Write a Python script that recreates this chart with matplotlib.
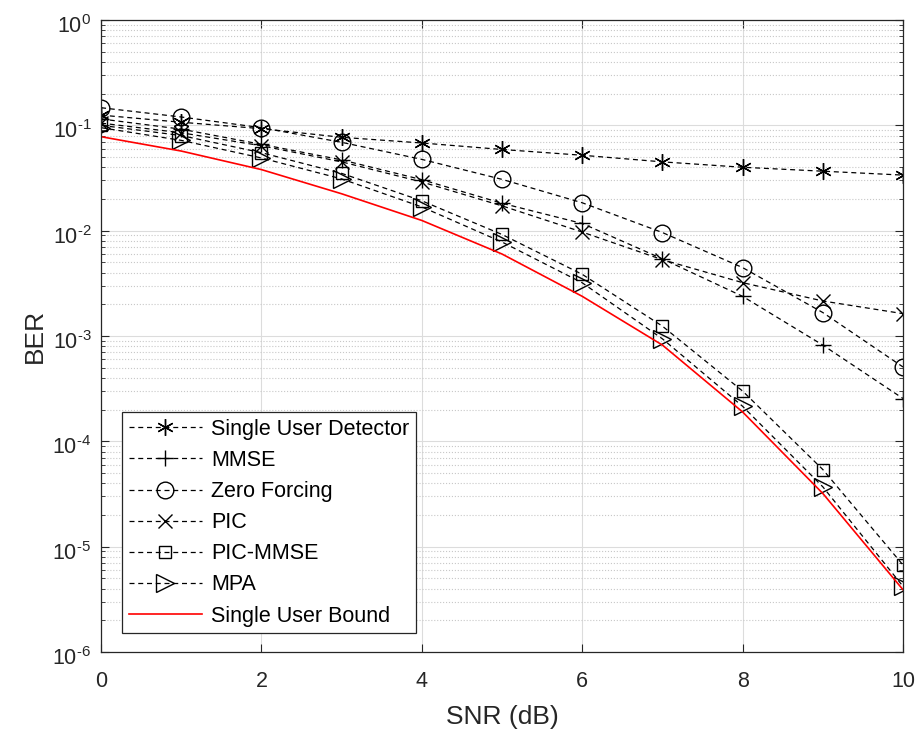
import numpy as np
import matplotlib.pyplot as plt
from matplotlib.ticker import LogLocator, NullFormatter, MultipleLocator, FuncFormatter
from matplotlib.transforms import ScaledTranslation

plt.rcParams['font.family'] = ['Liberation Sans', 'DejaVu Sans']
plt.rcParams['mathtext.fontset'] = 'custom'
plt.rcParams['mathtext.rm'] = 'Liberation Sans'
plt.rcParams['mathtext.it'] = 'Liberation Sans'

# data
snr = [0, 1, 2, 3, 4, 5, 6, 7, 8, 9, 10]
ber_sud = [0.125, 0.107, 0.093, 0.077, 0.068, 0.059, 0.052, 0.045, 0.040, 0.0367, 0.0337]
ber_mmse = [0.115, 0.092, 0.066, 0.047, 0.0305, 0.0182, 0.0117, 0.0054, 0.00238, 0.00082, 0.000255]
ber_zf = [0.147, 0.120, 0.095, 0.069, 0.0475, 0.0307, 0.0184, 0.0096, 0.00446, 0.00167, 0.000508]
ber_pic = [0.105, 0.085, 0.064, 0.045, 0.029, 0.0172, 0.0097, 0.0053, 0.00321, 0.00215, 0.00163]
ber_picmmse = [0.100, 0.080, 0.055, 0.035, 0.0192, 0.0092, 0.00385, 0.00124, 0.00030, 5.4e-5, 6.7e-6]
ber_mpa = [0.095, 0.072, 0.049, 0.031, 0.0168, 0.0078, 0.0032, 0.00094, 0.000215, 3.7e-5, 4.2e-6]
ber_bound = [0.078, 0.057, 0.038, 0.0224, 0.0125, 0.0060, 0.00238, 0.00082, 0.00019, 3.2e-5, 3.9e-6]

fig = plt.figure(figsize=(9.19, 7.33), dpi=100)
ax = fig.add_axes([0.110, 0.1105, 0.8726, 0.8622])

dash = (0, (4, 3))
kw = dict(color='k', linestyle=dash, linewidth=0.9, markersize=12,
          markerfacecolor='none', markeredgecolor='k', markeredgewidth=1.0)

ax.semilogy(snr, ber_sud, marker=(6, 2, 0), label='Single User Detector', **kw)
ax.semilogy(snr, ber_mmse, marker='+', label='MMSE', **kw)
ax.semilogy(snr, ber_zf, marker='o', label='Zero Forcing', **kw)
ax.semilogy(snr, ber_pic, marker='x', label='PIC', **dict(kw, markersize=10))
ax.semilogy(snr, ber_picmmse, marker='s', label='PIC-MMSE', **dict(kw, markersize=9))
ax.semilogy(snr, ber_mpa, marker='>', label='MPA', **dict(kw, markersize=13))
ax.semilogy(snr, ber_bound, color='red', linewidth=1.2, label='Single User Bound')

ax.set_xlim(0, 10)
ax.set_ylim(1e-6, 1)
ax.xaxis.set_major_locator(MultipleLocator(2))
ax.yaxis.set_major_locator(LogLocator(base=10, numticks=10))
ax.yaxis.set_minor_locator(LogLocator(base=10, subs=np.arange(2, 10), numticks=100))
ax.yaxis.set_minor_formatter(NullFormatter())


def pow_label(v, pos):
    e = int(round(np.log10(v)))
    if e < 0:
        return r'$10^{\text{-}%d}$' % (-e)
    return r'$10^{%d}$' % e


ax.yaxis.set_major_formatter(FuncFormatter(pow_label))

ax.grid(which='major', color='#dcdcdc', linestyle='-', linewidth=0.8)
ax.grid(which='minor', axis='y', color='#c8c8c8', linestyle=':', linewidth=0.8)
ax.set_axisbelow(True)

ax.tick_params(which='both', direction='in', top=True, right=True, labelsize=15.5, colors='#262626')
ax.tick_params(which='major', length=6)
ax.tick_params(which='minor', length=3)
ax.tick_params(axis='x', pad=14)
ax.tick_params(axis='y', pad=7)
for s in ax.spines.values():
    s.set_color('#262626')
    s.set_linewidth(0.9)

ax.set_xlabel('SNR (dB)', fontsize=19, color='#262626', labelpad=9)
ax.set_ylabel('BER', fontsize=19, color='#262626', labelpad=4)

leg = ax.legend(loc='lower left', bbox_to_anchor=(21 / 802, 19 / 632), borderaxespad=0,
                fontsize=15.5, handlelength=3.4, frameon=True, fancybox=False,
                edgecolor='#262626', framealpha=1, labelspacing=0.47,
                borderpad=0.3, handletextpad=0.45)
leg.get_frame().set_linewidth(0.9)

# nudge y tick labels down a little, like the reference
fig.canvas.draw()
shift = ScaledTranslation(0, -4 / 100, fig.dpi_scale_trans)
for t in ax.yaxis.get_major_ticks():
    t.label1.set_transform(t.label1.get_transform() + shift)

fig.savefig('out.png', dpi=100)
